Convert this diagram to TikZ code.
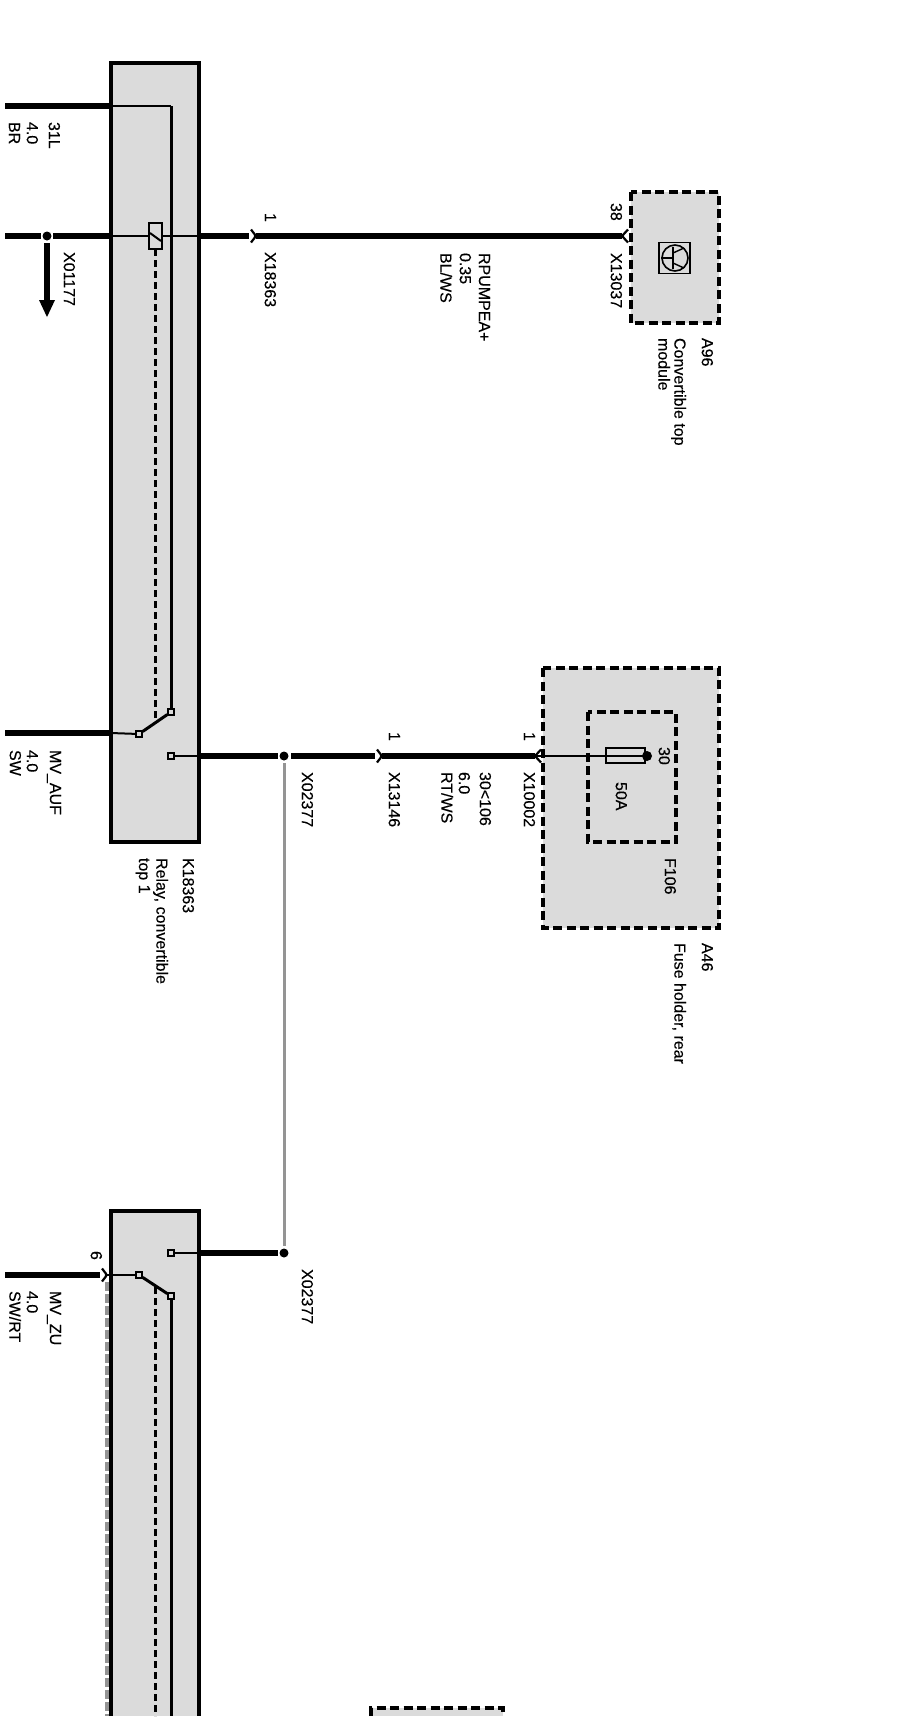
\documentclass[tikz,border=0pt]{standalone}
\usepackage{fontspec}
\setmainfont{Liberation Sans}[FakeBold=0.35]
\usetikzlibrary{arrows.meta}
\tikzset{
  x=1pt,y=-1pt,
  unitbox/.style={fill=boxgray,draw=black,line width=3.4pt},
  dashbox/.style={fill=boxgray,draw=black,line width=3.4pt,dash pattern=on 9pt off 4.5pt},
  innerdash/.style={draw=black,line width=3.2pt,dash pattern=on 9pt off 4.5pt},
  wire/.style={line width=5.4pt,draw=black},
  thin wire/.style={line width=2pt,draw=black},
  vert wire/.style={line width=3pt,draw=black},
  ctrl/.style={line width=3pt,draw=black,dash pattern=on 7pt off 4pt},
  gray wire/.style={line width=3pt,draw=graywire},
  grayctrl/.style={line width=3.2pt,draw=graywire,dash pattern=on 9pt off 3pt},
  lab/.style={rotate=-90,anchor=north west,inner sep=0pt,outer sep=0pt,font=\fontsize{16}{17}\selectfont,text=black},
  contact/.style={circle,fill=black,minimum size=9pt,inner sep=0pt},
  term/.style={rectangle,draw=black,fill=boxgray,line width=1.4pt,minimum size=6pt,inner sep=0pt},
  plug/.style={line width=2.2pt,draw=black,rounded corners=1.5pt},
}
\definecolor{boxgray}{gray}{0.86}
\definecolor{graywire}{gray}{0.58}
\newcommand{\lbl}[4]{\node[lab,name=#1] at (#2+8,#3) {#4};}
\begin{document}
\begin{tikzpicture}
\useasboundingbox (0,0) rectangle (920,1725);
% boxes
\path[unitbox] (111,63) rectangle (199,842);
\path[fill=boxgray] (111,1211) rectangle (199,1716);
\draw[line width=3.4pt] (111,1716) -- (111,1211) -- (199,1211) -- (199,1716);
\path[dashbox] (631,192) rectangle (719,323);
\path[dashbox] (543,668) rectangle (719,928);
\path[innerdash] (588,712) rectangle (676,842);
\path[fill=boxgray] (371,1708) rectangle (503,1716);
\draw[line width=3.2pt,dash pattern=on 9pt off 4.5pt] (371,1716) -- (371,1708) -- (503,1708) -- (503,1716);

% coordinates
\coordinate (w1l) at (5,106);
\coordinate (w1r) at (111,106);
\coordinate (bend) at (171,106);
\coordinate (w2l) at (5,236);
\coordinate (b1l) at (111,236);
\coordinate (b1r) at (199,236);

% terminals and junctions
\node[term] (c1) at (171,712) {};
\node[term] (p1) at (139,734) {};
\node[term] (o1) at (171,756) {};
\node[term] (o2) at (171,1253) {};
\node[term] (p2) at (139,1275) {};
\node[term] (c2) at (171,1296) {};
\node[contact] (j1) at (47,236) {};
\node[contact] (j2) at (284,756) {};
\node[contact] (j3) at (284,1253) {};

% relay 1
\draw[wire] (w1l) -- (w1r);
\draw[thin wire] (w1r) -- (bend);
\draw[vert wire] (bend) -- (c1);
\draw[wire] (w2l) -- (41,236);
\draw[wire] (53,236) -- (b1l);
\draw[thin wire] (b1l) -- (b1r);
\draw[ctrl] (155,249) -- (155,722);
\node[rectangle,draw=black,fill=boxgray,line width=1.8pt,minimum width=13pt,minimum height=26pt,inner sep=0pt] (coil) at (155.5,236) {};
\draw[line width=2pt] (150,233) -- (161,241);
\draw[wire] (b1r) -- (249,236);
\draw[plug] (251,229.5) -- (256,236) -- (251,242.5);
\draw[wire] (256,236) -- (622,236);
\draw[plug] (628,229.5) -- (622,236) -- (628,242.5);
\draw[wire] (j1) ++(0,7) -- (47,302);
\draw[fill=black,draw=none] (39,300) -- (55,300) -- (47,317) -- cycle;

% switch 1
\draw[wire] (5,733) -- (111,733);
\draw[thin wire] (111,733) -- (p1);
\draw[vert wire] (p1) -- (c1);
\draw[thin wire] (o1) -- (199,756);
\draw[wire] (199,756) -- (278,756);
\draw[wire] (291,756) -- (375,756);
\draw[plug] (377,749.5) -- (382,756) -- (377,762.5);
\draw[wire] (382,756) -- (535,756);
\draw[plug] (541,749.5) -- (535,756) -- (541,762.5);
\draw[thin wire] (537,756) -- (606,756);
\draw[gray wire] (j2) ++(0,7) -- (284,1246);
\node[rectangle,draw=black,fill=boxgray,line width=1.6pt,minimum width=39pt,minimum height=15pt,inner sep=0pt] (fuse) at (625.5,755.5) {};
\draw[thin wire] (fuse.west) -- (fuse.east);
\node[contact,minimum size=10pt] (f30) at (647,756) {};
\foreach \n in {c1,p1,o1} {\node[term] at (\n) {};}

% relay 2
\draw[thin wire] (o2) -- (199,1253);
\draw[wire] (199,1253) -- (278,1253);
\draw[wire] (5,1275) -- (100,1275);
\draw[plug] (102,1268.5) -- (107,1275) -- (102,1281.5);
\draw[thin wire] (106,1275) -- (p2);
\draw[vert wire] (p2) -- (c2);
\draw[vert wire] (c2) -- (171,1716);
\draw[ctrl] (155,1287) -- (155,1716);
\draw[grayctrl] (107,1282) -- (107,1716);
\foreach \n in {o2,p2,c2} {\node[term] at (\n) {};}

% icon
\node[rectangle,draw=black,line width=1.4pt,minimum size=31pt,inner sep=0pt] (icon) at (674.5,258) {};
\node[circle,draw=black,line width=1.6pt,minimum size=26pt,inner sep=0pt] (iconc) at (675,258) {};
\draw[line width=1.4pt] (iconc.west) -- (673,258);
\draw[line width=1.6pt] (673,247) -- (673,269);
\draw[line width=1.4pt] (673,253) -- (684,248);
\draw[line width=1.4pt] (673,263) -- (684,268);

% labels
\lbl{t1}{52}{122}{31L}
\lbl{t2}{30}{122}{4.0}
\lbl{t3}{12}{122}{BR}
\lbl{t4}{67}{252}{X01177}
\lbl{t5}{268}{213}{1}
\lbl{t6}{268}{252}{X18363}
\lbl{t7}{482}{253}{RPUMPEA+}
\lbl{t8}{463}{253}{0.35}
\lbl{t9}{444}{253}{BL/WS}
\lbl{t10}{614}{203}{38}
\lbl{t11}{614}{253}{X13037}
\lbl{t12}{705}{338}{A96}
\lbl{t13}{678}{338}{Convertible top}
\lbl{t14}{662}{338}{module}
\lbl{t15}{53}{750}{MV\_AUF}
\lbl{t16}{30}{750}{4.0}
\lbl{t17}{13}{750}{SW}
\lbl{t18}{305}{772}{X02377}
\lbl{t19}{392}{732}{1}
\lbl{t20}{392}{772}{X13146}
\lbl{t21}{483}{772}{30<106}
\lbl{t22}{462}{772}{6.0}
\lbl{t23}{445}{772}{RT/WS}
\lbl{t24}{527}{732}{1}
\lbl{t25}{527}{772}{X10002}
\lbl{t26}{662}{747}{30}
\lbl{t27}{619}{782}{50A}
\lbl{t28}{668}{858}{F106}
\lbl{t29}{705}{943}{A46}
\lbl{t30}{678}{943}{Fuse holder, rear}
\lbl{t31}{186}{858}{K18363}
\lbl{t32}{160}{858}{Relay, convertible}
\lbl{t33}{142}{858}{top 1}
\lbl{t34}{94}{1251}{6}
\lbl{t35}{53}{1291}{MV\_ZU}
\lbl{t36}{30}{1291}{4.0}
\lbl{t37}{13}{1291}{SW/RT}
\lbl{t38}{305}{1269}{X02377}
\end{tikzpicture}
\end{document}
